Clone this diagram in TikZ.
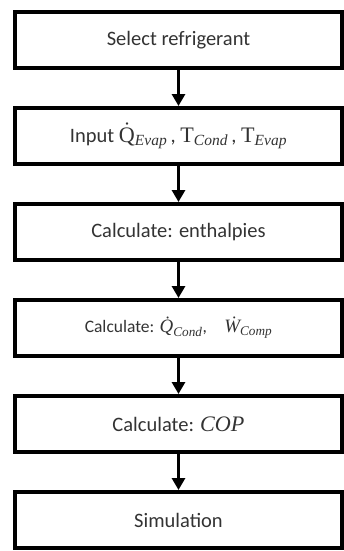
\documentclass[tikz,border=0pt]{standalone}
\usepackage{fontspec}
\setmainfont{Carlito}
\newfontfamily\cambria[Scale=1.08]{Liberation Serif}
\usetikzlibrary{arrows.meta}
\usetikzlibrary{positioning}
\newcommand{\upsym}[2]{{\cambria #1\textsubscript{\itshape #2}}}
\newcommand{\itsym}[2]{{\cambria\itshape #1\textsubscript{#2}}}
\tikzset{stage/.style = {draw, line width = 4pt, minimum width = 327pt,
                         minimum height = 56pt, inner sep = 0pt,
                         text = black!80, font = \fontsize{20.5}{23}\selectfont},
         flow/.style = {line width = 3pt,
                        -{Triangle[width = 13pt, length = 12pt]}}}

\begin{document}
\begin{tikzpicture}[node distance = 36pt]
      \useasboundingbox (0, 0) rectangle (344pt, -551pt);
      \node [stage] (select) at (178.5pt, -40pt) {Select refrigerant};
      \node [stage, below = of select] (input)
            {Input \upsym{Q̇}{Evap}\,, \upsym{T}{Cond}\,, \upsym{T}{Evap}};
      \node [stage, below = of input] (enth) {Calculate: enthalpies};
      \node [stage, below = of enth, font = \fontsize{17.5}{20}\selectfont] (heat)
            {Calculate: \itsym{Q̇}{Cond},\quad\itsym{Ẇ}{Comp}};
      \node [stage, below = of heat] (cop) {Calculate: {\cambria\itshape COP}};
      \node [stage, below = of cop] (sim) {Simulation};

      \draw [flow] (select) -- (input);
      \draw [flow] (input) -- (enth);
      \draw [flow] (enth) -- (heat);
      \draw [flow] (heat) -- (cop);
      \draw [flow] (cop) -- (sim);
    \end{tikzpicture}
\end{document}
